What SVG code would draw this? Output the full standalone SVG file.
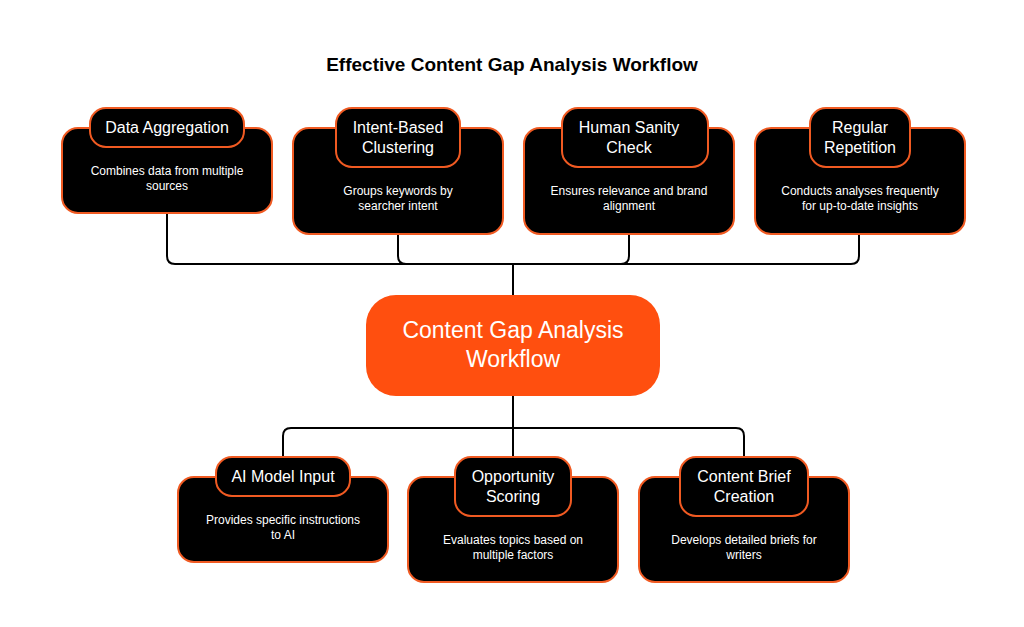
<svg xmlns="http://www.w3.org/2000/svg" width="1024" height="627" viewBox="0 0 1024 627">
<style>
.box{fill:#000;stroke:#f05a22;stroke-width:2}
.t{font-family:"Liberation Sans",Arial,sans-serif;fill:#fff;text-anchor:middle}
.h{font-size:16px}
.d{font-size:12px}
.c{fill:none;stroke:#000;stroke-width:2}
</style>
<rect width="1024" height="627" fill="#fff"/>
<text x="512" y="71" font-family="Liberation Sans,Arial,sans-serif" font-size="19" font-weight="bold" text-anchor="middle" fill="#000">Effective Content Gap Analysis Workflow</text>
<g id="connectors">
<path class="c" d="M167 213V256Q167 264 175 264H851Q859 264 859 256V234M398 234V256Q398 264 406 264M629 234V256Q629 264 621 264M513 264V295"/>
<path class="c" d="M513 396V457M283 457V436Q283 428 291 428H736Q744 428 744 436V457"/>
</g>
<g id="center"><rect x="366" y="295" width="294" height="101" rx="30" fill="#ff4f0f"/><text class="t" x="513" y="338" font-size="23">Content Gap Analysis</text><text class="t" x="513" y="367" font-size="23">Workflow</text></g>
<g id="n1"><rect class="box" x="62" y="128" width="210" height="85" rx="16"/><rect class="box" x="90" y="108" width="154" height="39" rx="16"/><text class="t h" x="167" y="133">Data Aggregation</text><text class="t d" x="167" y="175">Combines data from multiple</text><text class="t d" x="167" y="190">sources</text></g>
<g id="n2"><rect class="box" x="293" y="128" width="210" height="106" rx="16"/><rect class="box" x="336" y="108" width="124" height="59" rx="16"/><text class="t h" x="398" y="133">Intent-Based</text><text class="t h" x="398" y="153">Clustering</text><text class="t d" x="398" y="195">Groups keywords by</text><text class="t d" x="398" y="210">searcher intent</text></g>
<g id="n3"><rect class="box" x="524" y="128" width="210" height="106" rx="16"/><rect class="box" x="562" y="108" width="146" height="59" rx="16"/><text class="t h" x="629" y="133">Human Sanity</text><text class="t h" x="629" y="153">Check</text><text class="t d" x="629" y="195">Ensures relevance and brand</text><text class="t d" x="629" y="210">alignment</text></g>
<g id="n4"><rect class="box" x="755" y="128" width="210" height="106" rx="16"/><rect class="box" x="810" y="108" width="100" height="59" rx="16"/><text class="t h" x="860" y="133">Regular</text><text class="t h" x="860" y="153">Repetition</text><text class="t d" x="860" y="195">Conducts analyses frequently</text><text class="t d" x="860" y="210">for up-to-date insights</text></g>
<g id="n5"><rect class="box" x="178" y="477" width="210" height="85" rx="16"/><rect class="box" x="216" y="457" width="134" height="39" rx="16"/><text class="t h" x="283" y="482">AI Model Input</text><text class="t d" x="283" y="524">Provides specific instructions</text><text class="t d" x="283" y="539">to AI</text></g>
<g id="n6"><rect class="box" x="408" y="477" width="210" height="105" rx="16"/><rect class="box" x="455" y="457" width="116" height="59" rx="16"/><text class="t h" x="513" y="482">Opportunity</text><text class="t h" x="513" y="502">Scoring</text><text class="t d" x="513" y="544">Evaluates topics based on</text><text class="t d" x="513" y="559">multiple factors</text></g>
<g id="n7"><rect class="box" x="639" y="477" width="210" height="105" rx="16"/><rect class="box" x="680" y="457" width="128" height="59" rx="16"/><text class="t h" x="744" y="482">Content Brief</text><text class="t h" x="744" y="502">Creation</text><text class="t d" x="744" y="544">Develops detailed briefs for</text><text class="t d" x="744" y="559">writers</text></g>
</svg>
